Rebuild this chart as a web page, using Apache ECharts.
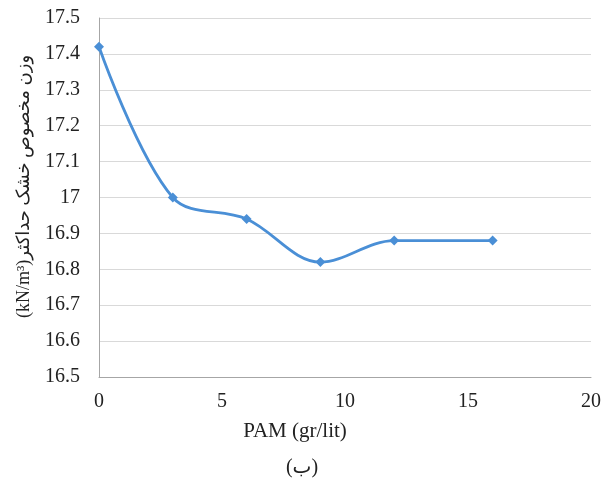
<!DOCTYPE html>
<html>
<head>
<meta charset="utf-8">
<script src="https://cdn.jsdelivr.net/npm/echarts@6/dist/echarts.min.js"></script>
<style>
html,body{margin:0;padding:0;background:#fff;}
#main{width:605px;height:482px;}
</style>
</head>
<body>
<div id="main"></div>
<script>
// data
var pam = [0, 3, 6, 9, 12, 16];
var density = [17.42, 17.0, 16.94, 16.82, 16.88, 16.88];
var xTicks = [0, 5, 10, 15, 20];
var yTicks = [16.5, 17.5];

var points = pam.map(function (x, i) { return [x, density[i]]; });

var myChart = echarts.init(document.getElementById('main'));
var serif = '"Liberation Serif", "DejaVu Sans", serif';

var option = {
    backgroundColor: '#fff',
    animation: false,
    graphic: [
        {type: 'text', x: 295, y: 431,
         style: {text: 'PAM (gr/lit)', font: '21px ' + serif, fill: '#222', align: 'center', verticalAlign: 'middle'}},
        {type: 'text', x: 302, y: 468,
         style: {text: '(ب)', font: '20px ' + serif, fill: '#222', align: 'center', verticalAlign: 'middle'}}
    ],
    grid: {left: 99, right: 14, top: 18, bottom: 105},
    xAxis: {
        type: 'value',
        min: xTicks[0],
        max: xTicks[xTicks.length - 1],
        interval: 5,
        axisLine: {lineStyle: {color: '#a6a6a6'}},
        axisTick: {show: false},
        axisLabel: {fontFamily: serif, color: '#222', fontSize: 20, margin: 15},
        splitLine: {show: false}
    },
    yAxis: {
        type: 'value',
        min: yTicks[0],
        max: yTicks[1],
        interval: 0.1,
        name: '(kN/m³)وزن مخصوص خشک حداکثر',
        nameLocation: 'middle',
        nameGap: 66,
        nameRotate: 90,
        nameTextStyle: {fontFamily: serif, color: '#222', fontSize: 18, padding: [0, 0, 0, 22]},
        axisLine: {show: true, lineStyle: {color: '#a6a6a6'}},
        axisTick: {show: false},
        axisLabel: {fontFamily: serif, color: '#222', fontSize: 20, margin: 19,
            formatter: function (v) { return String(Math.round(v * 10) / 10); }},
        splitLine: {lineStyle: {color: '#d9d9d9'}}
    },
    series: [{
        type: 'line',
        data: points,
        smooth: 0.35,
        symbol: 'diamond',
        symbolSize: 10,
        itemStyle: {color: '#4a8fd6'},
        lineStyle: {color: '#4a8fd6', width: 2.8}
    }]
};
myChart.setOption(option);
</script>
</body>
</html>
